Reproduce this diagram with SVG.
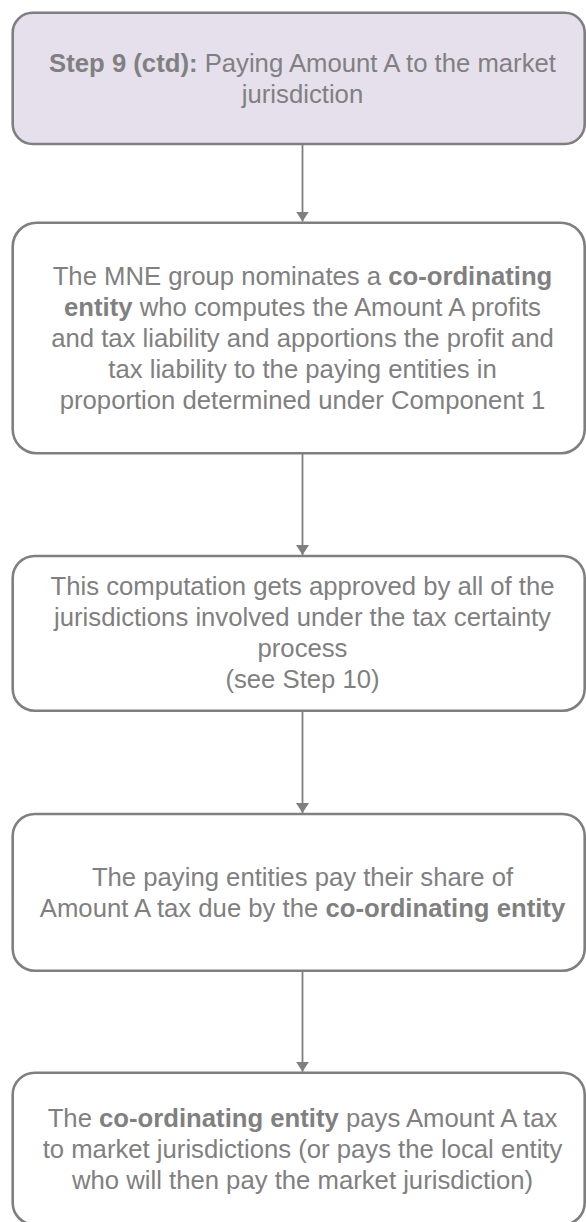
<svg xmlns="http://www.w3.org/2000/svg" width="586" height="1222" viewBox="0 0 586 1222">
<style>
.box{fill:#ffffff;stroke:#7f7f7f;stroke-width:2.6}
.title{fill:#e5e0ec}
.t{font-family:"Liberation Sans",Arial,sans-serif;font-size:25.7px;fill:#808080;text-anchor:middle}
.b{font-weight:bold}
.conn{stroke:#7f7f7f;stroke-width:1.8;fill:none}
</style>
<defs>
<marker id="ah" viewBox="0 0 10 13" refX="10" refY="6.5" markerWidth="10" markerHeight="13" markerUnits="userSpaceOnUse" orient="auto">
<path d="M0,0 L10,6.5 L0,13 z" fill="#7f7f7f"/>
</marker>
</defs>
<rect width="586" height="1222" fill="#ffffff"/>
<g id="connectors">
<line class="conn" x1="302.5" y1="144" x2="302.5" y2="221.5" marker-end="url(#ah)"/>
<line class="conn" x1="302.5" y1="453.3" x2="302.5" y2="555" marker-end="url(#ah)"/>
<line class="conn" x1="302.5" y1="710.7" x2="302.5" y2="813" marker-end="url(#ah)"/>
<line class="conn" x1="302.5" y1="970.7" x2="302.5" y2="1071.7" marker-end="url(#ah)"/>
</g>
<g id="node1">
<rect class="box title" x="12.7" y="12.7" width="572" height="131.3" rx="20"/>
<text class="t" x="302.5" y="71.7"><tspan class="b">Step 9 (ctd):</tspan> Paying Amount A to the market</text>
<text class="t" x="302.5" y="102.5">jurisdiction</text>
</g>
<g id="node2">
<rect class="box" x="12.7" y="222.7" width="572" height="230.6" rx="24"/>
<text class="t" x="302.5" y="285">The MNE group nominates a <tspan class="b">co-ordinating</tspan></text>
<text class="t" x="302.5" y="316"><tspan class="b">entity</tspan> who computes the Amount A profits</text>
<text class="t" x="302.5" y="347">and tax liability and apportions the profit and</text>
<text class="t" x="302.5" y="378">tax liability to the paying entities in</text>
<text class="t" x="302.5" y="409">proportion determined under Component 1</text>
</g>
<g id="node3">
<rect class="box" x="12.7" y="556" width="572" height="154.7" rx="22"/>
<text class="t" x="302.5" y="595">This computation gets approved by all of the</text>
<text class="t" x="302.5" y="626">jurisdictions involved under the tax certainty</text>
<text class="t" x="302.5" y="657">process</text>
<text class="t" x="302.5" y="688">(see Step 10)</text>
</g>
<g id="node4">
<rect class="box" x="12.7" y="814" width="572" height="156.7" rx="22"/>
<text class="t" x="302.5" y="886">The paying entities pay their share of</text>
<text class="t" x="302.5" y="917">Amount A tax due by the <tspan class="b">co-ordinating entity</tspan></text>
</g>
<g id="node5">
<rect class="box" x="12.7" y="1072.7" width="572" height="152" rx="22"/>
<text class="t" x="302.5" y="1127">The <tspan class="b">co-ordinating entity</tspan> pays Amount A tax</text>
<text class="t" x="302.5" y="1158">to market jurisdictions (or pays the local entity</text>
<text class="t" x="302.5" y="1189">who will then pay the market jurisdiction)</text>
</g>
</svg>
